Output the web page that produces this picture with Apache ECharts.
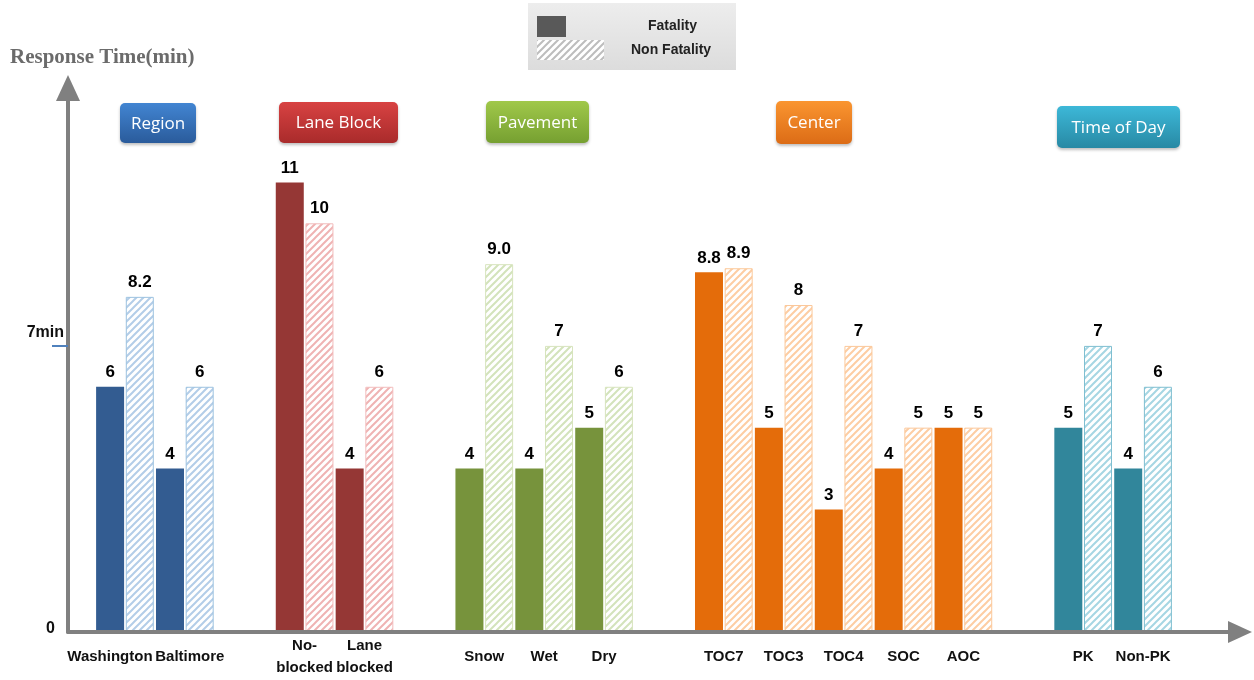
<!DOCTYPE html>
<html>
<head>
<meta charset="utf-8">
<script src="https://cdn.jsdelivr.net/npm/echarts@6/dist/echarts.min.js"></script>
<style>
  html, body { margin: 0; padding: 0; background: #ffffff; }
  #chart { width: 1254px; height: 680px; }
</style>
</head>
<body>
<div id="chart"></div>
<script>
// Response time by incident attribute, fatal vs. non-fatal incidents.
// Empty strings are spacer slots between attribute groups.
const categories = ['Washington', 'Baltimore', '', 'No-\nblocked', 'Lane\nblocked', '',
  'Snow', 'Wet', 'Dry', '', 'TOC7', 'TOC3', 'TOC4', 'SOC', 'AOC', '', 'PK', 'Non-PK'];
const groupOf = [0, 0, -1, 1, 1, -1, 2, 2, 2, -1, 3, 3, 3, 3, 3, -1, 4, 4];
const groupNames = ['Region', 'Lane Block', 'Pavement', 'Center', 'Time of Day'];
const fatality = [6, 4, null, 11, 4, null, 4, 4, 5, null, 8.8, 5, 3, 4, 5, null, 5, 4];
const nonFatality = [8.2, 6, null, 10, 6, null, 9.0, 7, 6, null, 8.9, 8, 7, 5, 5, null, 7, 6];
const nonFatalityOneDecimal = ['Snow'];   // non-fatal labels printed with one decimal
const yLabelValues = [0, 7];
const yMax = 13.31;

// group palette: solid fill for fatal, hatch for non-fatal
const solidColors = ['#335c91', '#953735', '#77933c', '#e46c0a', '#31869b'];
const hatchColors = ['#b3cde8', '#efb3b3', '#d3e3bb', '#fdcda3', '#a6d6e3'];
const hatchBorders = ['#9cc2e0', '#f2bcbc', '#d7e4bd', '#fbc89a', '#7fbfd1'];

const labelFont = 'Liberation Sans';

function hatch(color) {
  const s = 7;
  const c = document.createElement('canvas');
  c.width = s; c.height = s;
  const g = c.getContext('2d');
  g.fillStyle = '#ffffff';
  g.fillRect(0, 0, s, s);
  g.strokeStyle = color;
  g.lineWidth = 2;
  g.beginPath();
  g.moveTo(0, s); g.lineTo(s, 0);
  g.moveTo(-1, 1); g.lineTo(1, -1);
  g.moveTo(s - 1, s + 1); g.lineTo(s + 1, s - 1);
  g.stroke();
  return { image: c, repeat: 'repeat' };
}

const fData = fatality.map((v, i) => v == null ? '-' : {
  value: v, itemStyle: { color: solidColors[groupOf[i]] }
});
const nfData = nonFatality.map((v, i) => v == null ? '-' : {
  value: v,
  itemStyle: { color: hatch(hatchColors[groupOf[i]]), borderColor: hatchBorders[groupOf[i]], borderWidth: 1 }
});

// the first two region labels are nudged apart so they clear each other
const categoryLabel = {
  interval: 0, margin: 25, verticalAlign: 'middle', lineHeight: 22,
  fontFamily: labelFont, fontWeight: 'bold', fontSize: 15, color: '#111'
};
const labelNudge = { 0: [0, 30, 0, 0], 1: [0, 0, 0, 10] };
const categoryData = categories.map((name, i) => labelNudge[i]
  ? { value: name, textStyle: Object.assign({}, categoryLabel, { padding: labelNudge[i] }) }
  : name);

const labelBase = {
  show: true, position: 'top', distance: 6,
  fontFamily: labelFont, fontWeight: 'bold', fontSize: 17, color: '#000'
};

// coloured group headers
const headerStyle = [
  { x: 120, y: 103, w: 76, h: 40, c0: '#4285d2', c1: '#2a5b9b' },
  { x: 279, y: 102, w: 119, h: 41, c0: '#d84242', c1: '#a92b2b' },
  { x: 486, y: 101, w: 103, h: 42, c0: '#a0c84a', c1: '#76a031' },
  { x: 776, y: 101, w: 76, h: 43, c0: '#fa9530', c1: '#dc6c16' },
  { x: 1057, y: 106, w: 123, h: 42, c0: '#3db8d8', c1: '#2889a4' }
];
const headers = groupNames.map((name, i) => {
  const h = headerStyle[i];
  return {
    type: 'group', x: h.x, y: h.y,
    children: [
      { type: 'rect', shape: { x: 0, y: 0, width: h.w, height: h.h, r: 5 },
        style: {
          fill: new echarts.graphic.LinearGradient(0, 0, 0, 1, [
            { offset: 0, color: h.c0 }, { offset: 1, color: h.c1 }]),
          shadowBlur: 3, shadowOffsetY: 2, shadowColor: 'rgba(0,0,0,0.25)'
        } },
      { type: 'text', x: h.w / 2, y: h.h / 2 + 1,
        style: { text: name, fill: '#ffffff', fontFamily: 'Open Sans', fontSize: 17,
          align: 'center', verticalAlign: 'middle' } }
    ]
  };
});

const legendText = { fontFamily: 'Liberation Sans', fontWeight: 'bold', fontSize: 14, color: '#222' };

const chart = echarts.init(document.getElementById('chart'), null, { renderer: 'canvas' });
chart.setOption({
  backgroundColor: '#ffffff',
  animation: false,
  grid: [
    { left: 95, right: 81, top: 88, bottom: 48 },
    { left: 68, right: 14, top: 88, bottom: 48 }
  ],
  legend: [
    { data: [{ name: 'Fatality', icon: 'rect', itemStyle: { color: '#595959' } }],
      left: 537, top: 16, padding: 0, itemWidth: 29, itemHeight: 21, selectedMode: false,
      textStyle: Object.assign({ padding: [0, 0, 9, 77] }, legendText) },
    { data: [{ name: 'Non Fatality', icon: 'rect', itemStyle: { color: hatch('#bdbdbd') } }],
      left: 537, top: 40, padding: 0, itemWidth: 67, itemHeight: 20, selectedMode: false,
      textStyle: Object.assign({ padding: [0, 0, 0, 22] }, legendText) }
  ],
  xAxis: [
    { type: 'category', gridIndex: 0, data: categoryData,
      axisLine: { show: false }, axisTick: { show: false },
      axisLabel: categoryLabel },
    { type: 'value', gridIndex: 1, min: 0, max: 1, z: 5,
      axisLine: { show: true, symbol: ['none', 'triangle'], symbolSize: [22, 24],
        lineStyle: { color: '#808080', width: 4 } },
      axisTick: { show: false }, axisLabel: { show: false }, splitLine: { show: false } }
  ],
  yAxis: [
    { type: 'value', gridIndex: 0, min: 0, max: yMax, show: false },
    { type: 'value', gridIndex: 1, min: 0, max: yMax, z: 5,
      name: 'Response Time(min)', nameLocation: 'end', nameGap: 20,
      nameTextStyle: { fontFamily: 'Liberation Serif', fontWeight: 'bold', fontSize: 21,
        color: '#6b6b6b', align: 'left', padding: [0, 0, 0, -58] },
      axisLine: { show: true, symbol: ['none', 'triangle'], symbolSize: [24, 26],
        lineStyle: { color: '#808080', width: 4 } },
      axisTick: { show: true, customValues: [7], length: 16, lineStyle: { color: '#4f81bd', width: 2 } },
      axisLabel: { customValues: yLabelValues, margin: 4,
        formatter: v => v === 0 ? '{z|0}' : '{m|' + v + 'min}',
        rich: {
          z: { fontFamily: labelFont, fontWeight: 'bold', fontSize: 16, color: '#111', padding: [0, 9, 6, 0] },
          m: { fontFamily: labelFont, fontWeight: 'bold', fontSize: 16, color: '#111', padding: [0, 0, 26, 0] }
        } },
      splitLine: { show: false } }
  ],
  graphic: [
    { type: 'rect', left: 528, top: 3, z: -1,
      shape: { width: 208, height: 67 },
      style: { fill: new echarts.graphic.LinearGradient(0, 0, 0, 1, [
        { offset: 0, color: '#ededed' }, { offset: 1, color: '#dcdcdc' }]) } }
  ].concat(headers),
  series: [
    { name: 'Fatality', type: 'bar', xAxisIndex: 0, yAxisIndex: 0,
      barWidth: 28, barGap: '6%', itemStyle: { color: '#595959' },
      label: Object.assign({ formatter: p => String(p.value) }, labelBase), data: fData },
    { name: 'Non Fatality', type: 'bar', xAxisIndex: 0, yAxisIndex: 0,
      barWidth: 28, barGap: '6%', itemStyle: { color: '#bdbdbd' },
      label: Object.assign({
        formatter: p => nonFatalityOneDecimal.includes(categories[p.dataIndex]) ? p.value.toFixed(1) : String(p.value)
      }, labelBase), data: nfData }
  ]
});
</script>
</body>
</html>
